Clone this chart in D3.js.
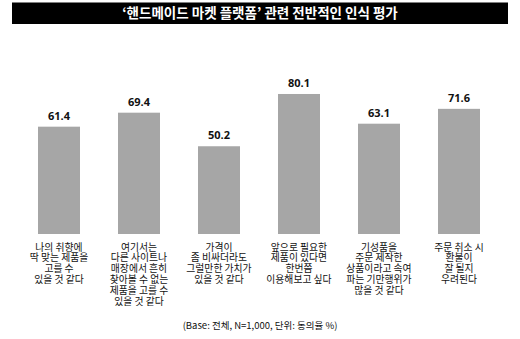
<!DOCTYPE html>
<html><head><meta charset="utf-8">
<script src="https://cdn.jsdelivr.net/npm/d3@7"></script>
<style>body{margin:0;background:#fff;}svg{display:block;}</style>
</head><body>
<svg id="c" width="520" height="339"></svg>
<script>
const title = "‘핸드메이드 마켓 플랫폼’ 관련 전반적인 인식 평가";
const categories = [
  ["나의 취향에","딱 맞는 제품을","고를 수","있을 것 같다"],
  ["여기서는","다른 사이트나","매장에서 흔히","찾아볼 수 없는","제품을 고를 수","있을 것 같다"],
  ["가격이","좀 비싸더라도","그럴만한 가치가","있을 것 같다"],
  ["앞으로 필요한","제품이 있다면","한번쯤","이용해보고 싶다"],
  ["기성품을","주문 제작한","상품이라고 속여","파는 기만행위가","많을 것 같다"],
  ["주문 취소 시","환불이","잘 될지","우려된다"]
];
const values = [61.4, 69.4, 50.2, 80.1, 63.1, 71.6];
const note = "(Base: 전체, N=1,000, 단위: 동의율 %)";

const svg = d3.select("#c");
const font = "'Noto Sans CJK KR','Noto Sans',sans-serif";

svg.append("rect").attr("x",12).attr("y",2.5).attr("width",496).attr("height",21.5).attr("fill","#000");
svg.append("text").attr("x",260).attr("y",18).attr("text-anchor","middle")
  .attr("fill","#fff").attr("font-family",font).attr("font-weight","bold").attr("font-size",13.5).text(title);

const x = d3.scaleBand().domain(d3.range(categories.length)).range([19,499]).paddingInner(0.475).paddingOuter(0.2375);
const y = d3.scaleLinear().domain([0,100]).range([234,59.2]);

svg.selectAll("rect.bar").data(values).join("rect").attr("class","bar")
  .attr("x",(d,i)=>x(i)).attr("width",x.bandwidth())
  .attr("y",d=>y(d)).attr("height",d=>y(0)-y(d)).attr("fill","#a6a6a6");

svg.selectAll("text.val").data(values).join("text").attr("class","val")
  .attr("x",(d,i)=>x(i)+x.bandwidth()/2).attr("y",d=>y(d)-7)
  .attr("text-anchor","middle").attr("font-family","'Open Sans',sans-serif").attr("font-weight","bold")
  .attr("font-size",11).attr("fill","#111").text(d=>d.toFixed(1));

const g = svg.selectAll("text.cat").data(categories).join("text").attr("class","cat")
  .attr("text-anchor","middle").attr("font-family",font).attr("font-size",9.8).attr("fill","#111");
g.each(function(lines,i){
  const t=d3.select(this);
  lines.forEach((l,j)=>{
    t.append("tspan").attr("x",x(i)+x.bandwidth()/2).attr("y",250.5+j*10.8).text(l);
  });
});

svg.append("text").attr("x",260).attr("y",328.5).attr("text-anchor","middle")
  .attr("font-family",font).attr("font-size",9.5).attr("fill","#111").text(note);
</script>
</body></html>
